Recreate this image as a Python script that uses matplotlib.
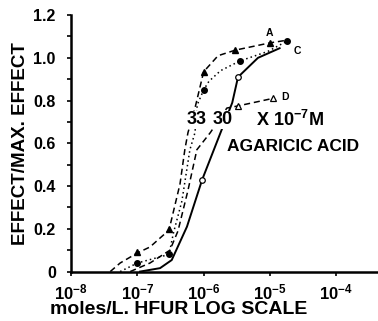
import matplotlib
matplotlib.use("Agg")
import matplotlib.pyplot as plt
from matplotlib.ticker import FixedLocator, FuncFormatter, MultipleLocator

plt.rcParams['font.family'] = ['Liberation Sans', 'DejaVu Sans']
plt.rcParams['mathtext.fontset'] = 'custom'
plt.rcParams['mathtext.rm'] = 'Liberation Sans:bold'
plt.rcParams['mathtext.bf'] = 'Liberation Sans:bold'
plt.rcParams['mathtext.it'] = 'Liberation Sans:bold'

# ---- data ----
# curve A: dashed, filled triangles
a_line_x = [3.9e-8, 5.5e-8, 1e-7, 1.55e-7, 3e-7, 4.4e-7, 5.2e-7, 5.8e-7, 7.4e-7, 1e-6, 1.65e-6, 3e-6, 1e-5, 1.85e-5]
a_line_y = [0.0, 0.04, 0.087, 0.115, 0.194, 0.41, 0.57, 0.65, 0.765, 0.935, 1.01, 1.036, 1.07, 1.083]
a_mark_x = [1e-7, 3e-7, 1e-6, 3e-6, 1e-5]
a_mark_y = [0.09, 0.20, 0.935, 1.036, 1.07]

# curve B: dotted, filled circles
b_line_x = [5.5e-8, 1e-7, 3e-7, 3.5e-7, 4.7e-7, 6.2e-7, 7.4e-7, 8e-7, 1e-6, 1.2e-6, 1.8e-6, 3.5e-6, 9.3e-6, 1.8e-5]
b_line_y = [0.0, 0.04, 0.08, 0.18, 0.33, 0.57, 0.65, 0.78, 0.85, 0.89, 0.94, 0.985, 1.03, 1.078]
b_mark_x = [1e-7, 3e-7, 1e-6, 3.5e-6, 1.8e-5]
b_mark_y = [0.04, 0.08, 0.85, 0.985, 1.078]

# curve C: solid, open circles
c_line_x = [1.1e-7, 2.2e-7, 3.3e-7, 5.6e-7, 9.5e-7, 2.7e-6, 3.3e-6, 6.6e-6, 1.4e-5]
c_line_y = [0.0, 0.016, 0.054, 0.21, 0.43, 0.79, 0.91, 1.0, 1.045]
c_mark_x = [9.5e-7, 3.3e-6]
c_mark_y = [0.43, 0.91]

# curve D: dashed, open triangles
d_line_x = [7.8e-8, 1.55e-7, 3.1e-7, 4.1e-7, 5.8e-7, 7.9e-7, 1.26e-6, 2.24e-6, 3.3e-6, 1.1e-5]
d_line_y = [0.0, 0.04, 0.10, 0.19, 0.38, 0.57, 0.65, 0.765, 0.775, 0.81]
d_mark_x = [3.3e-6, 1.1e-5]
d_mark_y = [0.775, 0.81]

y_ticks = [0, 0.2, 0.4, 0.6, 0.8, 1.0, 1.2]
y_labels = ['0', '0.2', '0.4', '0.6', '0.8', '1.0', '1.2']
x_ticks = [1e-8, 1e-7, 1e-6, 1e-5, 1e-4]
x_exps = [-8, -7, -6, -5, -4]

fig = plt.figure(figsize=(3.78, 3.21), dpi=100)
ax = fig.add_axes([0.188, 0.154, 0.812, 0.799])
ax.set_xscale('log')
ax.set_xlim(1e-8, 10 ** -3.37)
ax.set_ylim(0, 1.2)

k = dict(color='black', lw=1.1)
ax.plot(a_line_x, a_line_y, ls=(0, (4, 2.5)), **k)
ax.plot(a_mark_x, a_mark_y, ls='none', marker='^', ms=5, color='black')
ax.plot(b_line_x, b_line_y, ls=(0, (1, 2)), **k)
ax.plot(b_mark_x, b_mark_y, ls='none', marker='o', ms=4, color='black')
ax.plot(c_line_x, c_line_y, ls='-', color='black', lw=1.4)
ax.plot(c_mark_x, c_mark_y, ls='none', marker='o', ms=4, mfc='white', mec='black', mew=0.9)
ax.plot(d_line_x, d_line_y, ls=(0, (4, 2.5)), **k)
ax.plot(d_mark_x, d_mark_y, ls='none', marker='^', ms=5, mfc='white', mec='black', mew=0.9)

for s in ['top', 'right']:
    ax.spines[s].set_visible(False)
for s in ['left', 'bottom']:
    ax.spines[s].set_linewidth(1.8)

ax.yaxis.set_major_locator(FixedLocator(y_ticks))
ax.yaxis.set_minor_locator(MultipleLocator(0.1))
ax.set_yticklabels(y_labels, fontsize=11.5, fontweight='bold')
ax.tick_params(axis='y', which='both', direction='out', length=3, width=1.2, pad=8)
ax.xaxis.set_major_locator(FixedLocator(x_ticks))
ax.xaxis.set_minor_locator(FixedLocator([]))
ax.xaxis.set_major_formatter(FuncFormatter(lambda v, p: r'$\mathbf{10^{%d}}$' % x_exps[x_ticks.index(v)] if v in x_ticks else ''))
ax.tick_params(axis='x', which='both', direction='out', length=3, width=1.2, pad=5, labelsize=12)

ax.set_xlabel('moles/L. HFUR LOG SCALE', fontsize=14, fontweight='bold')
ax.xaxis.set_label_coords(0.352, -0.115)
ax.set_ylabel('EFFECT/MAX. EFFECT', fontsize=13.5, fontweight='bold', labelpad=3)

tk = dict(fontweight='bold', color='black', ha='center', va='center')
ax.text(10 ** -5.0, 1.116, 'A', fontsize=7.5, **tk)
ax.text(10 ** -4.58, 1.03, 'C', fontsize=7.5, **tk)
ax.text(10 ** -4.77, 0.817, 'D', fontsize=7.5, **tk)
box = dict(facecolor='white', edgecolor='none', pad=0.5)
ax.text(10 ** -6.10, 0.71, '33', fontsize=13, bbox=box, **tk)
ax.text(10 ** -5.72, 0.71, '30', fontsize=13, bbox=box, **tk)
ax.text(10 ** -4.70, 0.71, r'X 10$^{\mathbf{-7}}$M', fontsize=13, **tk)
ax.text(10 ** -4.65, 0.585, 'AGARICIC ACID', fontsize=12.5, **tk)

fig.savefig('out.png', dpi=100)
